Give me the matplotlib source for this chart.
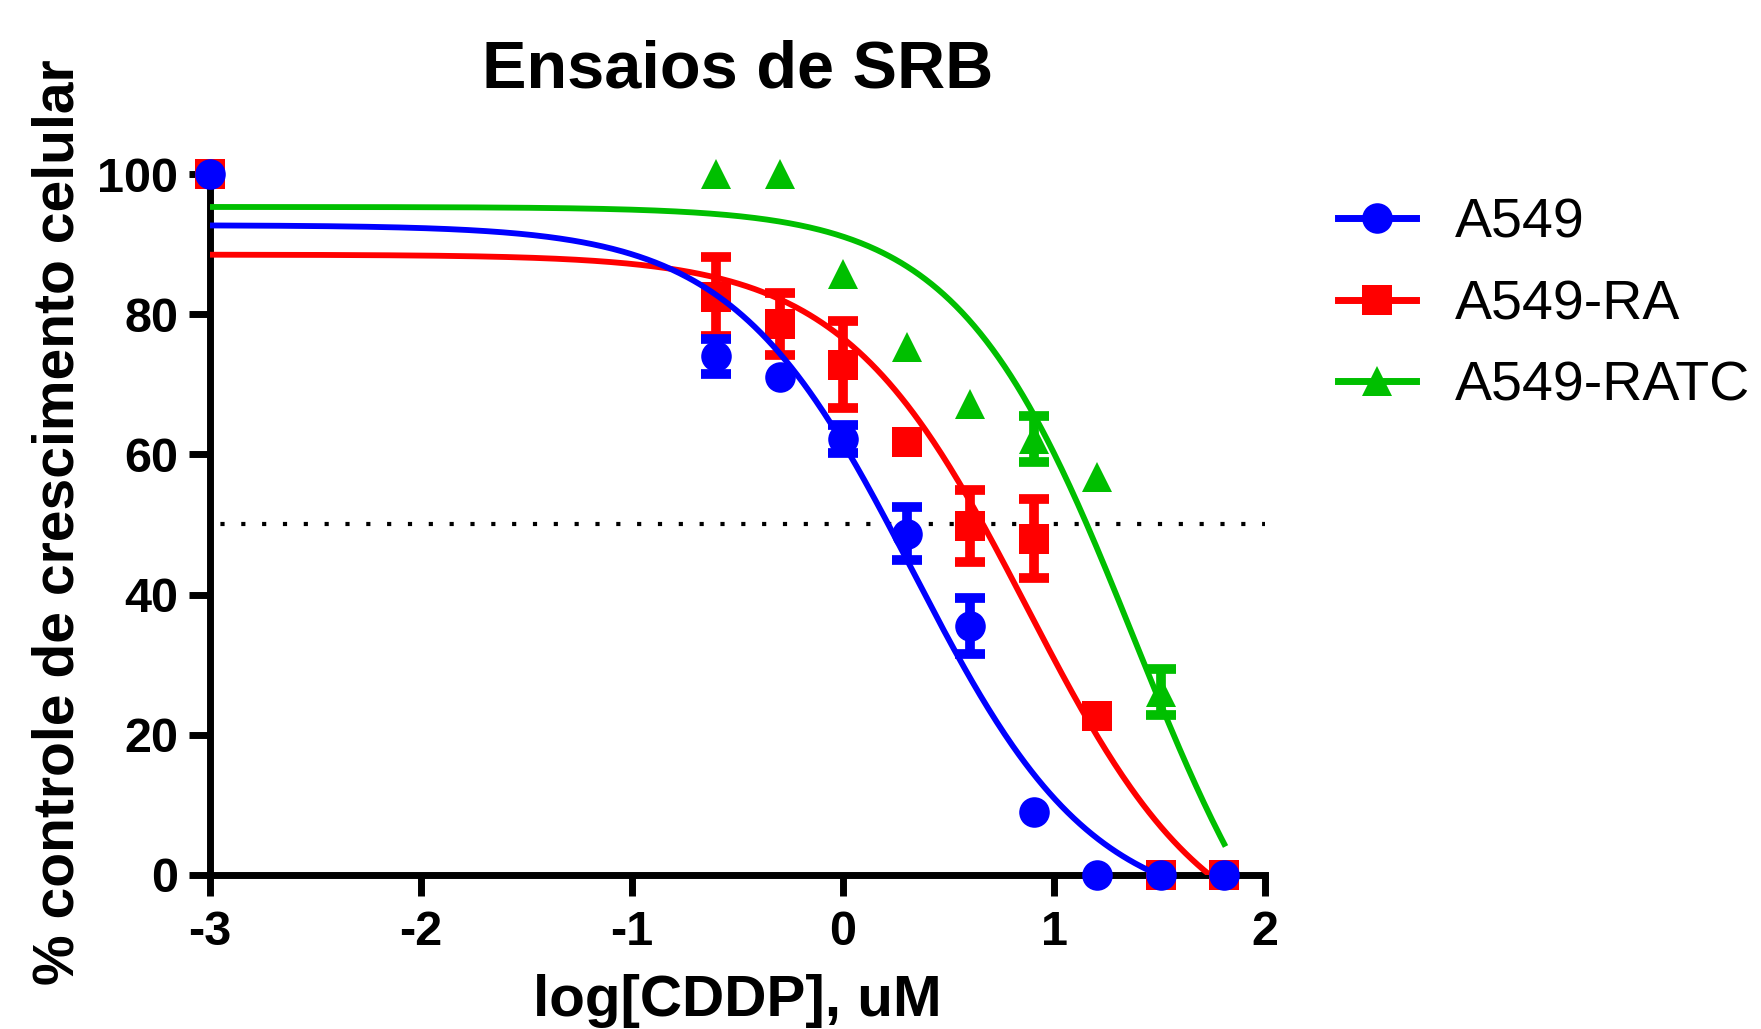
import matplotlib
matplotlib.use("agg")
import matplotlib.pyplot as plt
from matplotlib.lines import Line2D
import numpy as np

plt.rcParams['font.family'] = ['Liberation Sans', 'DejaVu Sans']
plt.rcParams['axes.unicode_minus'] = False

# concentrations (uM); first point is the control, plotted at log = -3
conc = [0.001, 0.25, 0.5, 1, 2, 4, 8, 16, 32, 64]
logconc = np.log10(conc)

names = ['A549', 'A549-RA', 'A549-RATC']
colors = ['#0000FF', '#FF0000', '#00BF00']
markers = ['o', 's', '^']

a549 = [100, 74.0, 71.0, 62.2, 48.7, 35.5, 9.0, 0, 0, 0]
a549_err = [0, 2.5, 0, 2.0, 3.8, 4.0, 0, 0, 0, 0]
a549_ra = [100, 82.5, 78.6, 72.8, 61.8, 49.8, 48.0, 22.7, 0, 0]
a549_ra_err = [0, 5.6, 4.4, 6.2, 0, 5.1, 5.7, 0, 0, 0]
a549_ratc = [100, 100, 100, 85.8, 75.3, 67.2, 62.2, 56.8, 26.1, 0]
a549_ratc_err = [0, 0, 0, 0, 0, 0, 3.3, 0, 3.3, 0]

# fitted 4-parameter dose-response: top, bottom, logIC50, hill slope
fit_a549 = [92.7, -6, 0.33, 1.02]
fit_ra = [88.5, -12, 0.87, 1.0]
fit_ratc = [95.3, -28, 1.38, 1.05]

values = [a549, a549_ra, a549_ratc]
errors = [a549_err, a549_ra_err, a549_ratc_err]
fits = [fit_a549, fit_ra, fit_ratc]


def dose_response(x, top, bottom, logic50, hill):
    return bottom + (top - bottom) / (1 + 10 ** ((x - logic50) * hill))


fig = plt.figure(figsize=(17.61, 10.29), dpi=100)
ax = fig.add_axes([0.1193, 0.1497, 0.5991, 0.6812])

ax.axhline(50, color='black', lw=3, linestyle=(2.5, (1, 4)), zorder=1)

xs = np.linspace(logconc[0], logconc[-1], 500)
# draw green first, blue last (blue sits on top)
for i in [2, 1, 0]:
    z = 3 + (2 - i) * 2
    ax.plot(xs, dose_response(xs, *fits[i]), color=colors[i], lw=4.2, zorder=z)
    ex = [x for x, e in zip(logconc, errors[i]) if e > 0]
    ey = [y for y, e in zip(values[i], errors[i]) if e > 0]
    ee = [e for e in errors[i] if e > 0]
    ax.errorbar(ex, ey, yerr=ee, fmt='none', ecolor=colors[i], elinewidth=7,
                capsize=11, capthick=7, zorder=z + 1, clip_on=False)
    ax.plot(logconc, values[i], linestyle='none', marker=markers[i], ms=22,
            mew=0, color=colors[i], zorder=z + 1, clip_on=False)

ax.set_xlim(-3, 2)
ax.set_ylim(0, 100)
ax.set_xticks([-3, -2, -1, 0, 1, 2])
ax.set_yticks([0, 20, 40, 60, 80, 100])
for s in ['top', 'right']:
    ax.spines[s].set_visible(False)
for s in ['left', 'bottom']:
    ax.spines[s].set_linewidth(5)
ax.tick_params(width=5, length=15, labelsize=35)
ax.tick_params(axis='y', pad=8)
ax.tick_params(axis='x', pad=10)
for lab in ax.get_xticklabels() + ax.get_yticklabels():
    lab.set_fontweight('bold')

fig.text(0.4186, 0.9145, 'Ensaios de SRB', ha='center', va='baseline',
         fontsize=48, fontweight='bold')
fig.text(0.4186, 0.013, 'log[CDDP], uM', ha='center', va='baseline',
         fontsize=42, fontweight='bold')
fig.text(0.0415, 0.4927, '% controle de crescimento celular', ha='center',
         va='baseline', rotation=90, rotation_mode='anchor',
         fontsize=41, fontweight='bold')

handles = [Line2D([], [], color=colors[i], lw=5, marker=markers[i], ms=22, mew=0)
           for i in range(3)]
ax.legend(handles, names, loc='upper left', bbox_to_anchor=(0.760, 0.808),
          bbox_transform=fig.transFigure, frameon=False, fontsize=40,
          handlelength=1.4, handletextpad=0.7, labelspacing=0.53,
          borderpad=0, borderaxespad=0)

plt.savefig('out.png', dpi=100)
plt.close()
